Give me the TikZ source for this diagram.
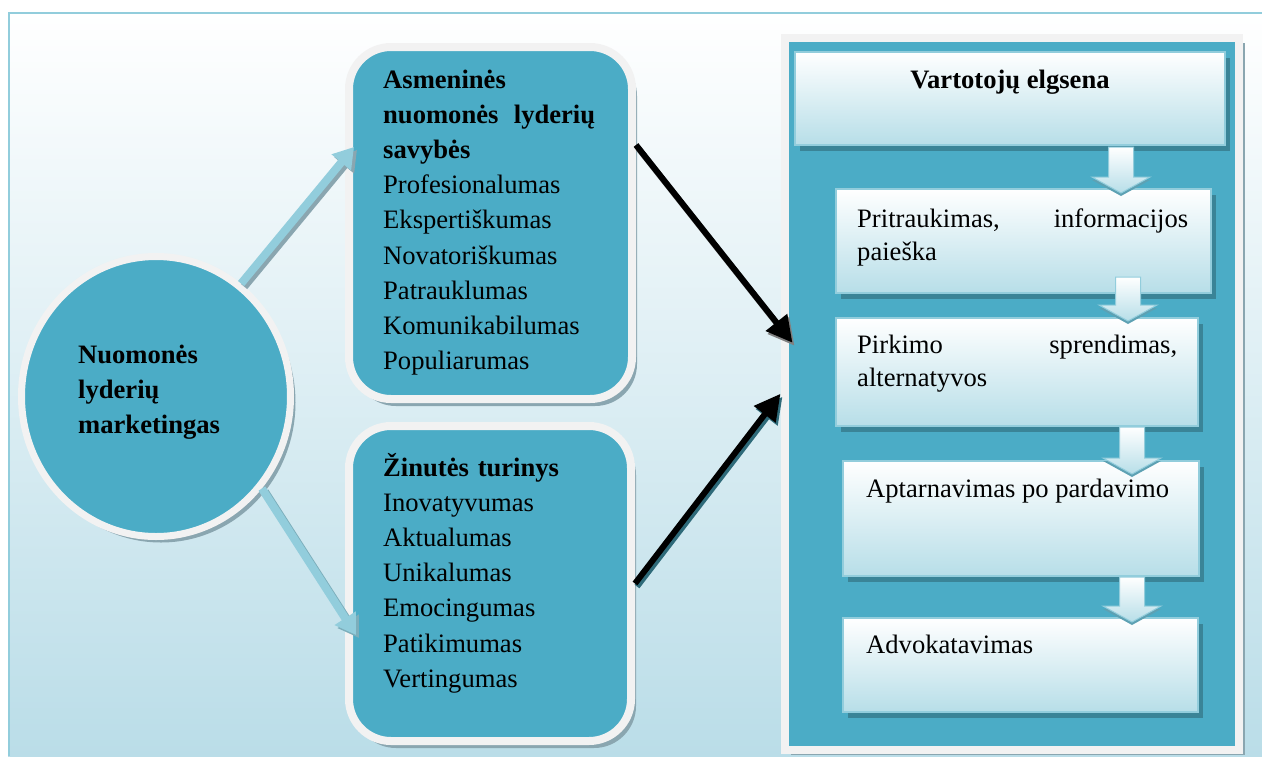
\documentclass[tikz,border=0pt]{standalone}
\usepackage{fontspec}
\setmainfont{Liberation Serif}
\usetikzlibrary{shadows,shapes.geometric,arrows.meta}
\definecolor{accblue}{HTML}{4BACC6}
\definecolor{lineblue}{HTML}{92CDDC}
\definecolor{paleblue}{HTML}{B7DEE8}
\definecolor{bgblue}{HTML}{BADDE8}
\definecolor{ringgray}{HTML}{F2F2F2}
\definecolor{darkteal}{HTML}{3A8497}
\definecolor{shadowgray}{HTML}{8AA6B0}
\newcommand{\mainsize}{\fontsize{26.6pt}{35.2pt}\selectfont}
\newcommand{\sidesize}{\fontsize{26.6pt}{33.5pt}\selectfont}
\tikzset{x=1pt, y=-1pt,
    roundbox/.style={rectangle, rounded corners=42pt, fill=accblue, draw=ringgray,
        line width=8pt, inner sep=0pt,
        drop shadow={shadow xshift=5pt, shadow yshift=-7pt, fill=shadowgray, opacity=1}},
    leadcircle/.style={ellipse, fill=accblue, draw=ringgray, line width=7pt, inner sep=0pt,
        drop shadow={shadow xshift=5pt, shadow yshift=-6pt, fill=shadowgray, opacity=1}},
    panelbox/.style={rectangle, fill=accblue, draw=ringgray, line width=8pt, inner sep=0pt,
        drop shadow={shadow xshift=6pt, shadow yshift=-5pt, fill=shadowgray, opacity=1}},
    stepbox/.style={rectangle, draw=lineblue, line width=2pt, inner sep=0pt,
        top color=white, bottom color=paleblue,
        drop shadow={shadow xshift=5pt, shadow yshift=-6pt, fill=darkteal, opacity=1}},
    flowarrow/.style={draw=lineblue, line width=1pt, top color=white, bottom color=paleblue,
        drop shadow={shadow xshift=0pt, shadow yshift=-3pt, fill=darkteal!60!lineblue, opacity=1}},
    lightarrow/.style={line width=8pt, draw=lineblue, -{Triangle[length=20pt,width=24pt]}},
    blackarrow/.style={line width=6pt, draw=black, -{Triangle[length=26pt,width=26pt]}},
    boxtext/.style={anchor=base west, inner sep=0pt, align=left, font=\mainsize},
    }
\begin{document}
\begin{tikzpicture}
\useasboundingbox (0,0) rectangle (1262,756);
% frame
\fill[top color=white, bottom color=bgblue] (8,13) rectangle (1262,756);
\draw[lineblue, line width=2.5pt] (9,756) -- (9,13) -- (1262,13);
% left side
\node[leadcircle, minimum width=269pt, minimum height=280pt] (lead) at (156,396.5) {};
\node[roundbox, minimum width=283pt, minimum height=352pt] (pers) at (490.5,223) {};
\node[roundbox, minimum width=282pt, minimum height=315pt] (msg) at (490,583.5) {};
\begin{scope}[transform canvas={shift={(3pt,-3pt)}}]
\draw[lightarrow, draw=shadowgray] (lead.53) -- ([shift={(9pt,76pt)}]pers.west);
\draw[lightarrow, draw=lineblue!85!black] (lead.-41) -- ([shift={(11pt,-51.5pt)}]msg.west);
\end{scope}
\draw[lightarrow] (lead.53) -- ([shift={(9pt,76pt)}]pers.west);
\draw[lightarrow] (lead.-41) -- ([shift={(11pt,-51.5pt)}]msg.west);
% right side
\node[panelbox, minimum width=454.5pt, minimum height=712.5pt] (panel) at (1011.75,393.75) {};
\node[stepbox, minimum width=430pt, minimum height=93pt] (v1) at (1010,98.5) {};
\node[stepbox, minimum width=375pt, minimum height=104pt] (v2) at (1023.5,241) {};
\node[stepbox, minimum width=362pt, minimum height=108pt] (v3) at (1017,372) {};
\node[stepbox, minimum width=356pt, minimum height=115pt] (v4) at (1021,518.5) {};
\node[stepbox, minimum width=355pt, minimum height=94pt] (v5) at (1020.5,665) {};
\foreach \x/\ya/\yb in {1121/147/193, 1128/277/321, 1132/427/474, 1132/577/622}
    \draw[flowarrow] (\x-12.5,\ya) -- (\x+12.5,\ya) -- (\x+12.5,\yb-16) -- (\x+29,\yb-16)
        -- (\x,\yb) -- (\x-29,\yb-16) -- (\x-12.5,\yb-16) -- cycle;
% links
\begin{scope}[transform canvas={shift={(2pt,-3pt)}}]
\draw[blackarrow, draw=gray] ([yshift=78pt]pers.east) -- ([shift={(12pt,51pt)}]panel.west);
\draw[blackarrow, draw=darkteal!80!black] (msg.east) -- (panel.west);
\end{scope}
\draw[blackarrow] ([yshift=78pt]pers.east) -- ([shift={(12pt,51pt)}]panel.west);
\draw[blackarrow] (msg.east) -- (panel.west);
% texts
\node[boxtext, text width=170pt] (leadtext) at (78,363)
    {\bfseries Nuomonės\\ lyderių\\ marketingas};
\node[boxtext, text width=212pt] (perstext) at (383,88)
    {{\bfseries Asmeninės\\ nuomonės\hfill lyderių\\ savybės}\\
    Profesionalumas\\ Ekspertiškumas\\ Novatoriškumas\\ Patrauklumas\\
    Komunikabilumas\\ Populiarumas};
\node[boxtext, text width=212pt] (msgtext) at (383,476)
    {{\bfseries Žinutės turinys}\\ Inovatyvumas\\ Aktualumas\\ Unikalumas\\
    Emocingumas\\ Patikimumas\\ Vertingumas};
\node[boxtext, anchor=base] (v1text) at (1010,88) {\bfseries Vartotojų elgsena};
\node[boxtext, text width=331pt, font=\sidesize] (v2text) at (857,227)
    {Pritraukimas,\hfill informacijos\\ paieška};
\node[boxtext, text width=320pt, font=\sidesize] (v3text) at (857,353)
    {Pirkimo\hfill sprendimas,\\ alternatyvos};
\node[boxtext] (v4text) at (866,497) {Aptarnavimas po pardavimo};
\node[boxtext] (v5text) at (866,653) {Advokatavimas};
\end{tikzpicture}
\end{document}
